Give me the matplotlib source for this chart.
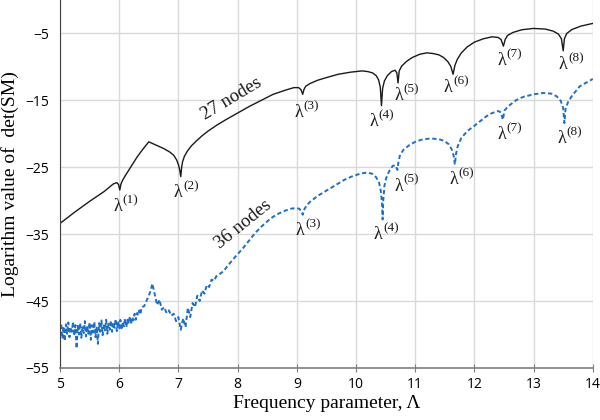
import matplotlib
matplotlib.use('Agg')
import matplotlib.pyplot as plt

# 27 nodes curve
x27 = [5.0, 5.25, 5.5, 5.75, 5.9, 5.96, 5.99, 6.01, 6.03, 6.06, 6.1, 6.2, 6.3, 6.4, 6.5,
       6.55, 6.65, 6.75, 6.85, 6.92, 6.97, 7.0, 7.02, 7.04, 7.055, 7.07, 7.1, 7.15, 7.22,
       7.3, 7.4, 7.5, 7.65, 7.8, 8.0, 8.2, 8.4, 8.6, 8.8, 8.95, 9.03, 9.07, 9.1, 9.12,
       9.15, 9.22, 9.35, 9.5, 9.7, 9.9, 10.1, 10.2, 10.28, 10.34, 10.38, 10.41, 10.43,
       10.45, 10.48, 10.53, 10.6, 10.66, 10.69, 10.71, 10.73, 10.77, 10.85, 10.95, 11.08,
       11.2, 11.3, 11.4, 11.48, 11.55, 11.6, 11.64, 11.67, 11.71, 11.78, 11.88, 12.0,
       12.15, 12.3, 12.4, 12.45, 12.49, 12.52, 12.56, 12.65, 12.8, 13.0, 13.2, 13.33,
       13.42, 13.47, 13.5, 13.52, 13.56, 13.65, 13.8, 14.0]
y27 = [-33.4, -31.7, -30.1, -28.6, -27.5, -27.3, -27.6, -28.4, -27.5, -26.9, -26.3, -24.9,
       -23.5, -22.3, -21.2, -21.4, -21.8, -22.2, -22.7, -23.2, -23.9, -24.6, -25.3, -26.4,
       -25.0, -24.2, -23.4, -22.6, -21.8, -21.1, -20.3, -19.6, -18.7, -17.9, -16.9, -15.9,
       -15.0, -14.1, -13.5, -13.1, -13.1, -13.4, -14.1, -13.4, -12.9, -12.5, -12.0, -11.6,
       -11.1, -10.8, -10.6, -10.7, -10.9, -11.3, -11.9, -13.0, -15.8, -13.2, -12.1, -11.3,
       -10.7, -10.5, -10.9, -12.4, -10.6, -9.9, -9.2, -8.6, -8.1, -7.9, -8.0, -8.2, -8.6,
       -9.2, -9.9, -11.1, -9.8, -8.9, -7.9, -7.0, -6.3, -5.8, -5.5, -5.6, -5.9, -6.9, -5.9,
       -5.3, -4.85, -4.45, -4.25, -4.35, -4.65, -5.1, -5.8, -7.6, -5.8, -5.0, -4.4, -3.9,
       -3.5]

# 36 nodes curve: noisy part up to ~7.8, then smooth
x36 = [5.00, 5.02, 5.04, 5.06, 5.08, 5.10, 5.12, 5.14, 5.16, 5.18, 5.20, 5.22, 5.24, 5.26,
       5.28, 5.30, 5.32, 5.34, 5.36, 5.38, 5.40, 5.42, 5.44, 5.46, 5.48, 5.50, 5.52, 5.54,
       5.56, 5.58, 5.60, 5.62, 5.64, 5.66, 5.68, 5.70, 5.72, 5.74, 5.76, 5.78, 5.80, 5.82,
       5.84, 5.86, 5.88, 5.90, 5.92, 5.94, 5.96, 5.98, 6.00, 6.02, 6.04, 6.06, 6.08, 6.10,
       6.12, 6.14, 6.16, 6.18, 6.20, 6.22, 6.24, 6.26, 6.28, 6.30, 6.32, 6.34, 6.36, 6.38,
       6.42, 6.46, 6.50, 6.53, 6.56, 6.60, 6.64, 6.68, 6.72, 6.76, 6.80, 6.84, 6.88, 6.92,
       6.96, 7.00, 7.04, 7.08, 7.12, 7.16, 7.20, 7.24, 7.28, 7.32, 7.36, 7.40, 7.44, 7.48,
       7.52, 7.56, 7.60, 7.64, 7.68, 7.72, 7.76,
       7.8, 7.9, 8.0, 8.1, 8.2, 8.3, 8.4, 8.5, 8.6, 8.7, 8.8, 8.9, 8.98, 9.04, 9.08, 9.1,
       9.12, 9.16, 9.22, 9.35, 9.5, 9.65, 9.8, 9.95, 10.1, 10.2, 10.28, 10.34, 10.39, 10.42,
       10.44, 10.45, 10.46, 10.48, 10.51, 10.56, 10.62, 10.66, 10.685, 10.7, 10.715, 10.74,
       10.8, 10.9, 11.0, 11.1, 11.25, 11.4, 11.5, 11.57, 11.62, 11.65, 11.67, 11.69, 11.72,
       11.78, 11.88, 12.0, 12.1, 12.2, 12.3, 12.4, 12.45, 12.48, 12.51, 12.57, 12.7, 12.82,
       13.0, 13.16, 13.3, 13.39, 13.46, 13.5, 13.52, 13.54, 13.58, 13.65, 13.78, 13.9, 14.0]
y36 = [-49.3, -48.4, -50.6, -48.8, -51.0, -48.5, -49.9, -48.2, -50.4, -48.9, -49.6, -48.1,
       -50.2, -48.6, -52.1, -48.7, -50.0, -48.3, -50.5, -48.9, -49.8, -48.0, -50.3, -48.7,
       -49.9, -48.2, -50.8, -48.6, -49.7, -48.1, -50.4, -48.8, -51.4, -48.3, -49.6, -47.9,
       -50.1, -48.5, -49.4, -47.8, -49.9, -48.4, -49.3, -47.9, -49.6, -48.2, -49.0, -47.7,
       -49.5, -48.0, -49.1, -47.8, -49.3, -48.1, -48.8, -47.6, -48.9, -47.8, -48.4, -47.3,
       -48.5, -47.4, -47.9, -46.9, -47.8, -46.8, -47.2, -46.4, -46.9, -45.9,
       -45.8, -45.0, -44.2, -43.5, -42.4, -44.0, -45.6, -44.8, -46.3, -45.9, -46.8, -46.4,
       -47.2, -46.9, -48.0, -47.4, -49.3, -47.6, -48.9, -46.0, -47.4, -45.3, -45.9, -44.2,
       -45.0, -43.4, -43.9, -42.6, -42.9, -41.8, -42.0, -41.3, -41.1, -40.8, -40.6,
       -40.1, -39.0, -38.0, -37.0, -35.9, -34.8, -33.9, -33.1, -32.4, -31.9, -31.5, -31.2,
       -31.1, -31.2, -31.6, -32.1, -31.4, -30.8, -30.2, -29.3, -28.5, -27.7, -26.9, -26.3,
       -25.9, -25.8, -26.0, -26.5, -27.3, -28.6, -30.5, -32.8, -30.0, -27.8, -26.6, -25.6,
       -24.8, -24.7, -25.1, -25.4, -24.3, -23.3, -22.4, -21.7, -21.2, -20.9, -20.7, -20.8,
       -21.1, -21.6, -22.4, -23.3, -24.6, -23.0, -21.8, -20.6, -19.6, -18.8, -18.1, -17.4,
       -16.9, -16.6, -16.8, -17.9, -16.5, -15.9, -15.0, -14.5, -14.1, -13.9, -14.0, -14.4,
       -15.1, -16.2, -18.4, -16.3, -15.3, -14.3, -12.9, -12.3, -11.8]

# eigenvalue labels
lab27_x = [6.06, 7.08, 9.11, 10.38, 10.8, 11.64, 12.54, 13.58]
lab27_y = [-30.7, -28.6, -16.6, -17.9, -14.1, -12.9, -8.9, -9.4]
lab27_n = [1, 2, 3, 4, 5, 6, 7, 8]
lab36_x = [9.14, 10.46, 10.8, 11.73, 12.54, 13.56]
lab36_y = [-34.3, -34.8, -27.6, -26.6, -19.9, -20.5]
lab36_n = [3, 4, 5, 6, 7, 8]

fig = plt.figure(figsize=(6, 4.2), dpi=100)
ax = fig.add_axes([0.1, 0.124, 0.888, 0.876])

ax.plot(x27, y27, color='#1a1a1a', lw=1.0)
ax.plot(x36, y36, color='#1f6fc8', lw=1.4, ls=(0, (2.2, 1.4)))

serif = 'Liberation Serif'
for x, y, n in zip(lab27_x + lab36_x, lab27_y + lab36_y, lab27_n + lab36_n):
    ax.annotate('λ', (x, y), xytext=(-3.5, -1), textcoords='offset points',
                ha='center', va='center', fontsize=13, family=serif, color='#1a1a1a')
    ax.annotate('(%d)' % n, (x, y), xytext=(0, 3.5), textcoords='offset points',
                ha='left', va='center', fontsize=9.5, family=serif, color='#1a1a1a')

ax.text(7.9, -14.7, '27 nodes', rotation=31, ha='center', va='center',
        fontsize=13.5, family=serif, color='#1a1a1a')
ax.text(8.1, -33.6, '36 nodes', rotation=39, ha='center', va='center',
        fontsize=13.5, family=serif, color='#1a1a1a')

ax.set_xlim(5, 14)
ax.set_ylim(-55, 0)
ax.set_xticks(range(5, 15))
ax.set_yticks([-5, -15, -25, -35, -45, -55])
ax.grid(True, color='#d9d9d9', lw=1.0)
ax.set_axisbelow(True)
for s in ['top', 'right']:
    ax.spines[s].set_visible(False)
ax.spines['left'].set_color('#404040')
ax.spines['bottom'].set_color('#7f7f7f')
ax.spines['bottom'].set_linewidth(1.2)
ax.tick_params(axis='x', direction='inout', length=6, color='#7f7f7f', labelsize=10)
ax.tick_params(axis='y', length=0, labelsize=10, pad=8)
for t in ax.get_xticklabels() + ax.get_yticklabels():
    t.set_family('Open Sans')

ax.set_xlabel('Frequency parameter, Λ', family=serif, fontsize=14, labelpad=2)
ax.set_ylabel('Logarithm value of  det(SM)', family=serif, fontsize=14, labelpad=4)

fig.savefig('out.png', dpi=100)
